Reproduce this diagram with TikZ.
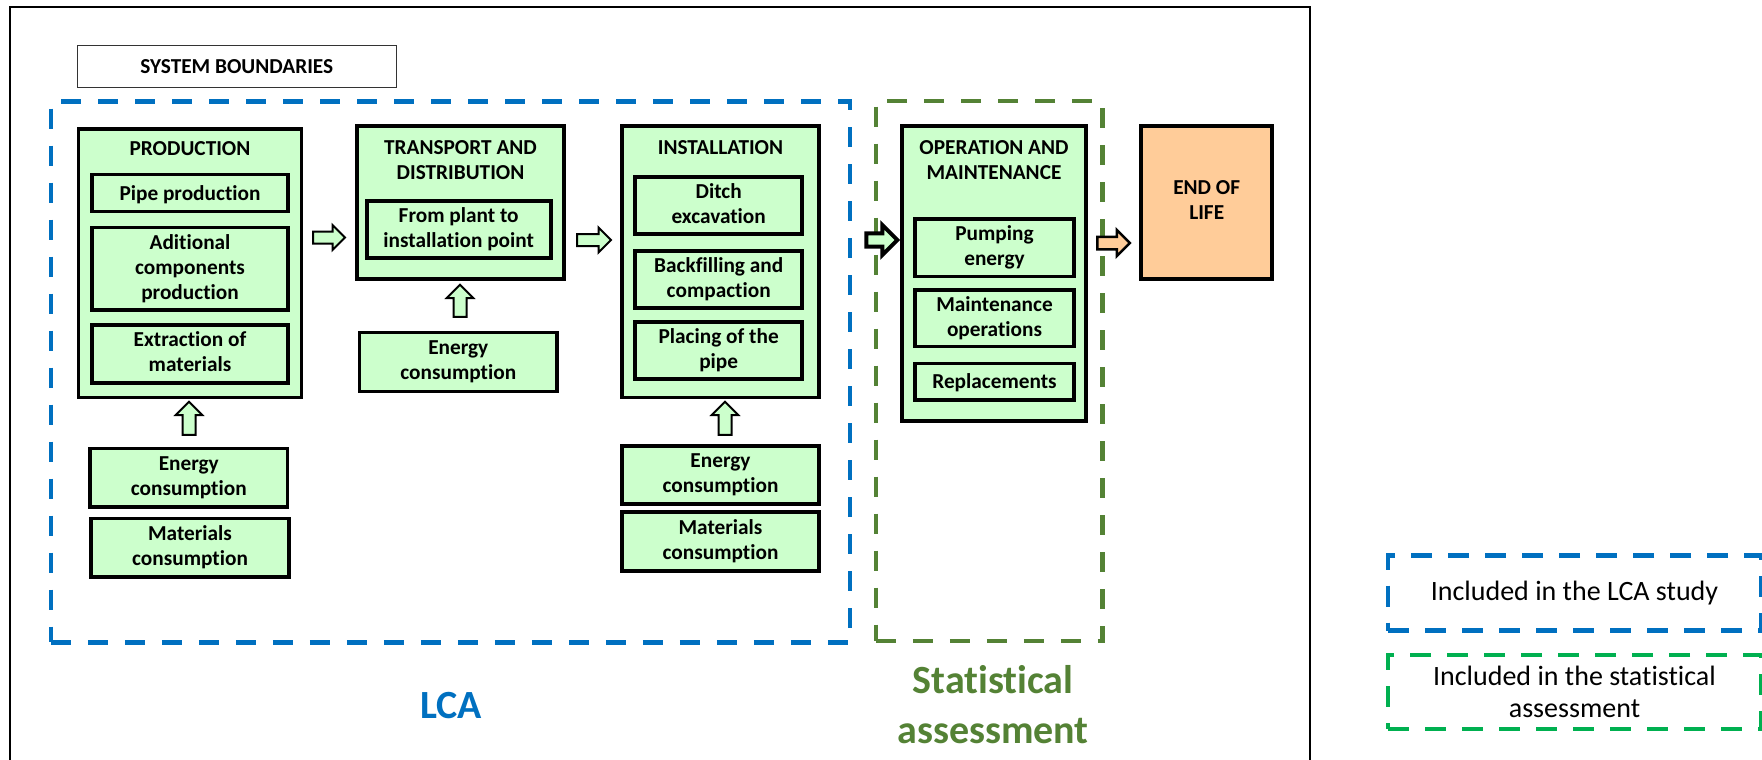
\documentclass[tikz,border=0pt]{standalone}
\usepackage{fontspec}
\setmainfont{Carlito}[Ligatures=NoCommon]
\usetikzlibrary{shapes.arrows}

\definecolor{boxgreen}{HTML}{CCFFCC}
\definecolor{lcablue}{HTML}{0070C0}
\definecolor{statgreen}{HTML}{548235}
\definecolor{keygreen}{HTML}{00B050}
\definecolor{eolfill}{HTML}{FFCC99}

\newcommand\stagefont{\bfseries\fontsize{21.3}{25}\selectfont}
\newcommand\bigfont{\bfseries\fontsize{40}{48}\selectfont}
\newcommand\keyfont{\fontsize{28}{32}\selectfont}

\tikzset{
  every node/.style={inner sep=0pt, outer sep=0pt},
  stagebox/.style={draw=black, line width=3.8pt, fill=boxgreen},
  itembox/.style={draw=black, line width=3.8pt, fill=boxgreen, align=center, font=\stagefont,
    execute at begin node={\rule{0pt}{18pt}},
    execute at end node={\rule[-4pt]{0pt}{0pt}}},
  heading/.style={align=center, font=\stagefont},
  boundary/.style={line width=4.5pt, dash pattern=on 20pt off 17pt},
  keybox/.style={line width=4.5pt, dash pattern=on 21pt off 16pt, align=center, font=\keyfont},
  flowarrow/.style={single arrow, draw=black, line width=2pt, fill=boxgreen,
    inner xsep=0pt, inner ysep=5pt, single arrow head extend=6.5pt,
    single arrow tip angle=90, minimum height=32pt},
  feedarrow/.style={flowarrow, rotate=90, inner ysep=5.5pt,
    single arrow head extend=6.8pt, minimum height=33pt},
}

\begin{document}
\begin{tikzpicture}[x=1pt,y=-1pt]
\useasboundingbox (0,0) rectangle (1762,760);

% outer frame (runs past the lower edge)
\draw[line width=2pt] (10,775) -- (10,7) -- (1310,7) -- (1310,775);

% title tag
\node[draw=black!80, line width=1.5pt, fill=white, minimum width=319, minimum height=42,
      font=\stagefont] (sysb) at (236.8,66.7) {SYSTEM BOUNDARIES};

% scope boundaries
\node[boundary, draw=lcablue, minimum width=799.2, minimum height=540.6] (lcazone) at (450.4,372) {};
\node[boundary, draw=statgreen, minimum width=226.5, minimum height=540.2] (statzone) at (989.2,370.9) {};

% production stage
\node[stagebox, minimum width=223, minimum height=268.5] (prod) at (190,263.3) {};
\node[heading] (prodT) at (190,149) {PRODUCTION};
\node[itembox, minimum width=196.5, minimum height=37] (pipe) at (190,193) {Pipe production};
\node[itembox, minimum width=196.5, minimum height=82.5] (addc) at (190,268.7) {Aditional\\components\\production};
\node[itembox, minimum width=196.5, minimum height=58] (extr) at (190,354) {Extraction of\\materials};
\node[itembox, minimum width=197.5, minimum height=58.8] (en1) at (188.8,477.8) {Energy\\consumption};
\node[itembox, minimum width=197.9, minimum height=58.8] (mat1) at (190,547.8) {Materials\\consumption};

% transport stage
\node[stagebox, minimum width=207.5, minimum height=153] (trans) at (460.5,202.5) {};
\node[heading] (transT) at (460.5,160.5) {TRANSPORT AND\\DISTRIBUTION};
\node[itembox, minimum width=183.8, minimum height=57.5] (plant) at (458.7,229.5) {From plant to\\installation point};
\node[itembox, minimum width=197.8, minimum height=59] (en2) at (458.3,362) {Energy\\consumption};

% installation stage
\node[stagebox, minimum width=197.5, minimum height=271.5] (inst) at (720.5,261.8) {};
\node[heading] (instT) at (720.5,148) {INSTALLATION};
\node[itembox, minimum width=167.2, minimum height=57.5] (ditch) at (718.7,205.5) {Ditch\\excavation};
\node[itembox, minimum width=167.2, minimum height=57.5] (back) at (718.7,279.5) {Backfilling and\\compaction};
\node[itembox, minimum width=167.2, minimum height=57.5] (place) at (718.7,350.5) {Placing of the\\pipe};
\node[itembox, minimum width=197.5, minimum height=58.2] (en3) at (720.5,474.8) {Energy\\consumption};
\node[itembox, minimum width=197.5, minimum height=58.8] (mat3) at (720.5,541.2) {Materials\\consumption};

% operation stage
\node[stagebox, minimum width=184.5, minimum height=295.2] (oper) at (994,273.7) {};
\node[heading] (operT) at (994,160.5) {OPERATION AND\\MAINTENANCE};
\node[itembox, minimum width=158.9, minimum height=57.5] (pump) at (994.5,247.8) {Pumping\\energy};
\node[itembox, minimum width=158.9, minimum height=56.5] (maint) at (994.5,318.3) {Maintenance\\operations};
\node[itembox, minimum width=158.9, minimum height=36.5] (repl) at (994.5,381.7) {Replacements};

% end of life
\node[itembox, fill=eolfill, minimum width=131.2, minimum height=152.8] (eol) at (1206.7,202.2) {END OF\\LIFE};

% block arrows between stages
\node[flowarrow] (a1) at (326,237.5) {};
\node[flowarrow, minimum height=34pt] (a2) at (591,240) {};
\node[flowarrow, line width=4pt, inner ysep=4.7pt, single arrow head extend=8.3pt, minimum height=31pt] (a3) at (878.5,240) {};
\node[flowarrow, fill=eolfill, line width=2.5pt, single arrow head extend=6.8pt, minimum height=32.5pt] (a4) at (1110.5,243) {};

% inputs feeding the stages
\node[feedarrow] (u1) at (189,421.5) {};
\node[feedarrow, minimum height=32pt] (u2) at (460,304) {};
\node[feedarrow] (u3) at (725,421.5) {};

% scope labels
\node[font=\bigfont, text=lcablue] (lcalabel) at (451,705.5) {LCA};
\node[font=\bigfont, text=statgreen, anchor=base] (statlabelA) at (993,693) {Statistical};
\node[font=\bigfont, text=statgreen, anchor=base] (statlabelB) at (993,743) {assessment};

% key
\node[keybox, draw=lcablue, minimum width=373, minimum height=75] (keylca) at (1574.5,593) {Included in the LCA study};
\node[keybox, draw=keygreen, minimum width=373, minimum height=74] (keystat) at (1574.5,692) {Included in the statistical\\assessment};

\end{tikzpicture}
\end{document}
